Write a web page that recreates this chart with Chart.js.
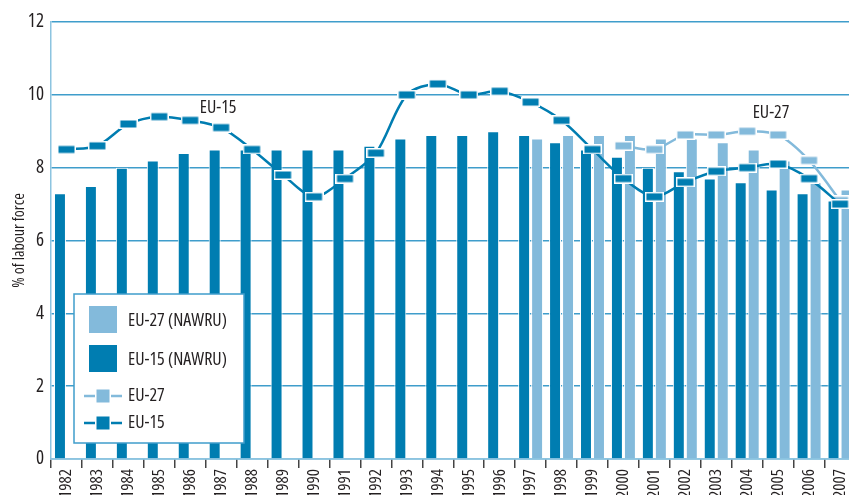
<!DOCTYPE html>
<html>
<head>
<meta charset="utf-8">
<script src="https://cdn.jsdelivr.net/npm/chart.js@4.4.1/dist/chart.umd.min.js"></script>
<style>
    body { margin: 0; background: #fff; }
    #frame { width: 849px; height: 495px; overflow: hidden; position: relative; }
    #wrap { width: 862px; height: 512px; position: absolute; left: 0; top: 0; }
</style>
</head>
<body>
<div id="frame"><div id="wrap"><canvas id="ctx_unemp"></canvas></div></div>
<script>
const years = ['1982', '1983', '1984', '1985', '1986', '1987', '1988', '1989', '1990', '1991', '1992', '1993', '1994',
    '1995', '1996', '1997', '1998', '1999', '2000', '2001', '2002', '2003', '2004', '2005', '2006', '2007'];
const eu15_nawru = [7.3, 7.5, 8.0, 8.2, 8.4, 8.5, 8.5, 8.5, 8.5, 8.5, 8.6, 8.8, 8.9,
    8.9, 9.0, 8.9, 8.7, 8.5, 8.3, 8.0, 7.9, 7.7, 7.6, 7.4, 7.3, 7.1];
const eu27_nawru = [null, null, null, null, null, null, null, null, null, null, null, null, null,
    null, null, 8.8, 8.9, 8.9, 8.9, 8.8, 8.8, 8.7, 8.5, 8.2, 7.6, 7.4];
const eu15_rate = [8.5, 8.6, 9.2, 9.4, 9.3, 9.1, 8.5, 7.8, 7.2, 7.7, 8.4, 10.0, 10.3,
    10.0, 10.1, 9.8, 9.3, 8.5, 7.7, 7.2, 7.6, 7.9, 8.0, 8.1, 7.7, 7.0];
const eu27_rate = [null, null, null, null, null, null, null, null, null, null, null, null, null,
    null, null, null, null, null, 8.6, 8.5, 8.9, 8.9, 9.0, 8.9, 8.2, 7.1];
const y_ticks = [0, 2, 4, 6, 8, 10, 12];

const DARK = '#007db1';
const LIGHT = '#83badb';
const TEXT = '#231f20';
// Open Sans is variable in width, so "condensed" gets the narrow cut
const FAMILY = "'Open Sans', 'DejaVu Sans', sans-serif";
const STRETCH = 'condensed';

// flat rectangle markers with a white rim
function marker(color) {
    const c = document.createElement('canvas');
    c.width = 19;
    c.height = 10;
    const g = c.getContext('2d');
    g.fillStyle = '#fff';
    g.fillRect(0, 0, 19, 10);
    g.fillStyle = color;
    g.fillRect(1.5, 1.5, 16, 7);
    return c;
}

const notes = {
    id: 'notes',
    afterDatasetsDraw(chart) {
        const g = chart.ctx;
        const x = chart.scales.x, y = chart.scales.y;
        g.save();
        g.fillStyle = TEXT;
        g.font = STRETCH + ' 18px ' + FAMILY;
        g.textAlign = 'center';
        g.textBaseline = 'middle';
        g.fillText('EU-15', x.getPixelForValue(4.9), y.getPixelForValue(9.65));
        g.fillText('EU-27', x.getPixelForValue(22.77), y.getPixelForValue(9.5));

        // legend box
        g.fillStyle = '#fff';
        g.fillRect(74, 294, 170, 149);
        g.strokeStyle = '#3f9dcb';
        g.lineWidth = 1.5;
        g.strokeRect(74, 294, 170, 149);

        g.fillStyle = LIGHT;
        g.fillRect(89, 306, 28, 27);
        g.fillStyle = DARK;
        g.fillRect(89, 345, 28, 27);

        [[396, LIGHT], [423, DARK]].forEach(([ly, col]) => {
            g.strokeStyle = col;
            g.lineWidth = 2.5;
            g.beginPath();
            g.moveTo(84, ly);
            g.lineTo(122, ly);
            g.stroke();
            g.fillStyle = '#fff';
            g.fillRect(95, ly - 8, 16, 16);
            g.fillStyle = col;
            g.fillRect(96.5, ly - 6.5, 13, 13);
        });

        g.fillStyle = TEXT;
        g.textAlign = 'left';
        g.font = STRETCH + ' 18px ' + FAMILY;
        g.fillText('EU-27 (NAWRU)', 128, 321);
        g.fillText('EU-15 (NAWRU)', 128, 360);
        g.fillText('EU-27', 128, 396);
        g.fillText('EU-15', 128, 423);
        g.restore();
    }
};

new Chart(document.getElementById('ctx_unemp'), {
    type: 'bar',
    data: {
        labels: years,
        datasets: [{
            label: 'EU-15 (NAWRU)',
            data: eu15_nawru,
            backgroundColor: DARK,
            borderColor: '#fff',
            borderWidth: 1,
            categoryPercentage: 0.84,
            barPercentage: 0.92,
            order: 2
        },
        {
            label: 'EU-27 (NAWRU)',
            data: eu27_nawru,
            backgroundColor: LIGHT,
            borderColor: '#fff',
            borderWidth: 1,
            categoryPercentage: 0.84,
            barPercentage: 0.92,
            order: 2
        },
        {
            type: 'line',
            label: 'EU-27',
            data: eu27_rate,
            borderColor: LIGHT,
            borderWidth: 2.5,
            tension: 0.3,
            pointStyle: marker(LIGHT),
            order: 1
        },
        {
            type: 'line',
            label: 'EU-15',
            data: eu15_rate,
            borderColor: DARK,
            borderWidth: 2.5,
            tension: 0.3,
            pointStyle: marker(DARK),
            order: 0
        }
    ]
    },
    options: {
        responsive: true,
        maintainAspectRatio: false,
        animation: false,
        layout: {
            padding: { top: 22, left: 0, right: 0, bottom: 0 }
        },
        scales: {
            x: {
                afterFit: (s) => { s.height = 53; },
                grid: {
                    display: true,
                    offset: true,
                    drawOnChartArea: false,
                    drawTicks: true,
                    tickLength: 9,
                    color: '#444',
                    lineWidth: 1.5
                },
                border: { color: '#8cc4e0', width: 1.5 },
                ticks: {
                    autoSkip: false,
                    minRotation: 90,
                    maxRotation: 90,
                    padding: 1,
                    color: TEXT,
                    font: { family: FAMILY, weight: STRETCH, size: 17 }
                }
            },
            y: {
                afterFit: (s) => { s.width = 51; },
                min: 0,
                max: 12,
                afterBuildTicks: (s) => { s.ticks = y_ticks.map(v => ({ value: v })); },
                grid: {
                    display: true,
                    drawTicks: false,
                    color: '#3f9dcb',
                    lineWidth: 1.5
                },
                border: { color: '#8cc4e0', width: 1.5 },
                ticks: {
                    padding: 7,
                    color: TEXT,
                    font: { family: FAMILY, weight: STRETCH, size: 19 }
                },
                title: {
                    display: true,
                    text: '% of labour force',
                    color: TEXT,
                    padding: { top: 10, bottom: 0 },
                    font: { family: FAMILY, weight: STRETCH, size: 16 }
                }
            }
        },
        plugins: {
            legend: {
                display: false
            },
            tooltip: { enabled: false }
        }
    },
    plugins: [notes]
});
</script>
</body>
</html>
